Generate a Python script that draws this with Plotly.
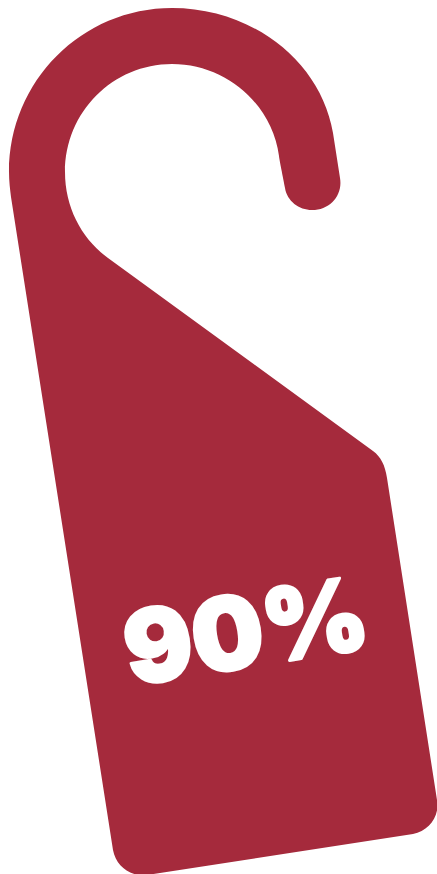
import plotly.graph_objects as go

# Door-hanger outline: commands and their control/end points, in picture pixels
path_cmds = ["M", "L", "C", "L", "C", "L", "C", "L", "C", "C", "C", "C", "L", "C", "C", "L", "C", "C", "C"]
path_pts = [
    [(11, 197)],
    [(113, 850)],
    [(116, 866), (130, 877), (147, 875)],
    [(413, 834)],
    [(429, 831), (440, 816), (437, 800)],
    [(387, 478)],
    [(385, 465), (381, 457), (373, 451)],
    [(108, 258)],
    [(82, 239), (65, 208), (65, 172)],
    [(65, 112), (113, 64), (172, 64)],
    [(226, 64), (272, 104), (279, 156)],
    [(279, 158), (282, 172), (285, 188)],
    [(285, 188)],
    [(287, 201), (299, 210), (312, 210)],
    [(330, 210), (343, 195), (340, 178)],
    [(333, 133)],
    [(321, 62), (253, 8), (172, 8)],
    [(82, 8), (9, 81), (9, 172)],
    [(9, 181), (10, 189), (11, 197)],
]
label_text = ["90%"]

d = ""
for c, pts in zip(path_cmds, path_pts):
    d += c + " ".join(f"{x},{y}" for x, y in pts) + " "
d += "Z"

fig = go.Figure()
fig.add_shape(type="path", path=d, xref="x", yref="y",
              fillcolor="#A52A3C", line=dict(width=0), layer="below")
fig.add_annotation(x=245, y=630, xref="x", yref="y", text=label_text[0], showarrow=False,
                   textangle=-9, font=dict(family="Inter", size=101, color="white", weight=900))
fig.update_xaxes(range=[0, 437], visible=False, fixedrange=True)
fig.update_yaxes(range=[874, 0], visible=False, fixedrange=True)
fig.update_layout(width=437, height=874, margin=dict(l=0, r=0, t=0, b=0),
                  paper_bgcolor="white", plot_bgcolor="white", showlegend=False)
fig.write_html("out.html", config=dict(displayModeBar=False),
               post_script=("document.body.style.margin='0';document.body.style.overflow='hidden';"
                            "document.querySelectorAll('.annotation-text').forEach(function(e){"
                            "e.style.stroke='white';e.style.strokeWidth='3px';e.style.strokeLinejoin='round';});"))
